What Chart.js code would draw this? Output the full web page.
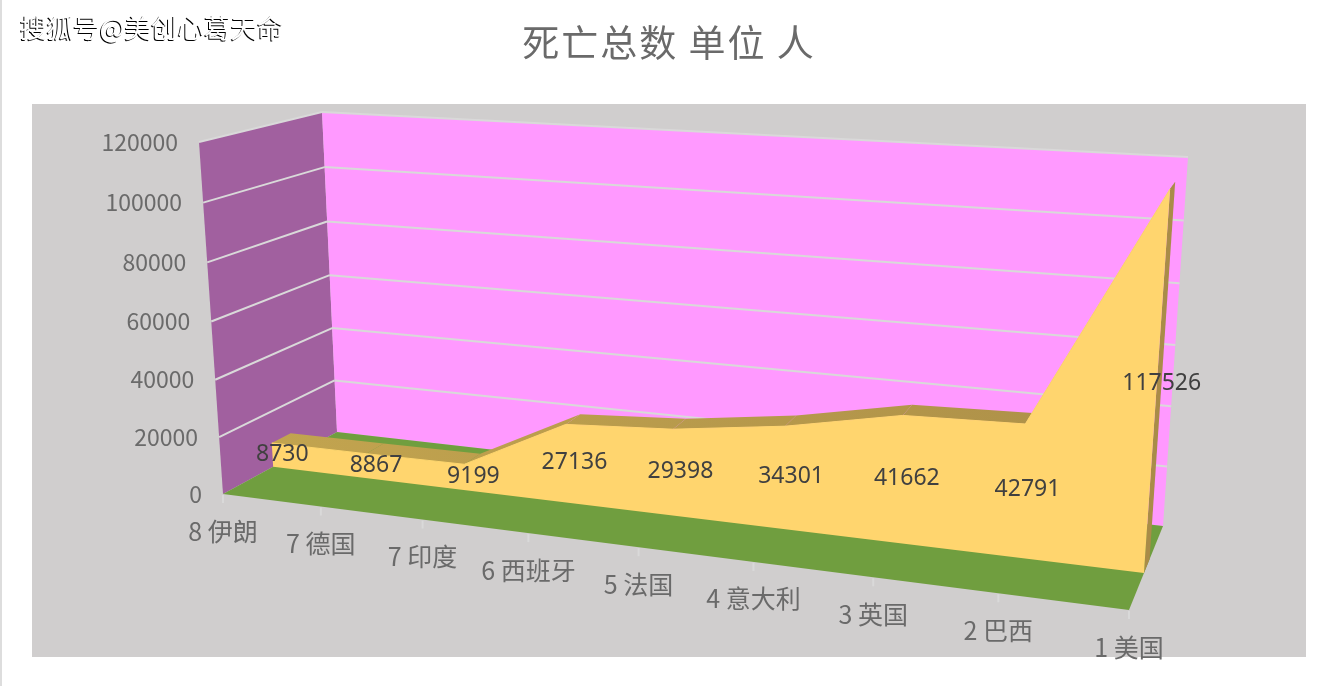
<!DOCTYPE html>
<html><head><meta charset="utf-8">
<style>html,body{margin:0;padding:0;background:#fff}canvas{display:block}</style>
<script src="https://cdn.jsdelivr.net/npm/chart.js@4"></script>
</head><body><canvas id="c" width="1332" height="686"></canvas>
<script>
const categories = ['8 伊朗','7 德国','7 印度','6 西班牙','5 法国','4 意大利','3 英国','2 巴西','1 美国'];
const deaths = [8730,8867,9199,27136,29398,34301,41662,42791,117526];
const valueTicks = [0,20000,40000,60000,80000,100000,120000];
const chartTitle = '死亡总数 单位 人';
const watermark = '搜狐号@美创心葛天命';

const FONT = '"Noto Sans CJK SC","Noto Sans",sans-serif';
const DEPTH_FRONT = 0.44, DEPTH_BACK = 0.605, WARP = 1.18, VWARP = 1.04;
// projected corners of the 3D box: [left/right][bottom/top][front/back]
const BOX = {
  lbf:[223,494], rbf:[1129,610], lbb:[337,432], rbb:[1163,526],
  ltf:[199,142], rtf:[1157,199], ltb:[322,112], rtb:[1188,157]
};
const mix = (a,b,t)=>[a[0]+(b[0]-a[0])*t, a[1]+(b[1]-a[1])*t];
function projectN(c,v,d){
  const t = c/(c+WARP*(1-c));
  const w = v/(v+VWARP*(1-v));
  const bf = mix(BOX.lbf,BOX.rbf,t), bb = mix(BOX.lbb,BOX.rbb,t);
  const tf = mix(BOX.ltf,BOX.rtf,t), tb = mix(BOX.ltb,BOX.rtb,t);
  return mix(mix(bf,tf,w),mix(bb,tb,w),d);
}
function project(chart,index,value,d){
  const x = chart.scales.x, y = chart.scales.y;
  const c = (x.getPixelForValue(index)-x.left)/x.width;
  const v = (y.bottom-y.getPixelForValue(value))/y.height;
  return projectN(c,v,d);
}
function poly(ctx,pts,fill){
  ctx.beginPath();
  pts.forEach((p,i)=>i?ctx.lineTo(p[0],p[1]):ctx.moveTo(p[0],p[1]));
  ctx.closePath(); ctx.fillStyle=fill; ctx.fill();
}
function seg(ctx,a,b){ctx.beginPath();ctx.moveTo(a[0],a[1]);ctx.lineTo(b[0],b[1]);ctx.stroke();}

const box3d = {
  id:'box3d',
  afterDatasetsUpdate(chart){
    chart.getDatasetMeta(0).data.forEach((pt,i)=>{
      const p = project(chart,i,deaths[i],DEPTH_FRONT);
      pt.x=p[0]; pt.y=p[1];
    });
  },
  beforeDraw(chart){
    const ctx=chart.ctx;
    ctx.save();
    ctx.fillStyle='#fff'; ctx.fillRect(0,0,1332,686);
    ctx.fillStyle='#DDDDDD'; ctx.fillRect(0,0,2,686);
    ctx.fillStyle='#D0CECE'; ctx.fillRect(32,104,1274,553);
    ctx.restore();
    ctx.letterSpacing='2px';
  },
  beforeDatasetsDraw(chart){
    const ctx=chart.ctx, last=categories.length-1, vMax=valueTicks[valueTicks.length-1];
    ctx.letterSpacing='0px';
    ctx.save();
    const P=(i,v,d)=>project(chart,i,v,d);
    // walls and floor
    poly(ctx,[P(0,0,0),P(0,vMax,0),P(0,vMax,1),P(0,0,1)],'#A1609F');
    poly(ctx,[P(0,0,1),P(0,vMax,1),P(last,vMax,1),P(last,0,1)],'#FF99FF');
    poly(ctx,[P(0,0,0),P(last,0,0),P(last,0,1),P(0,0,1)],'#709E3F');
    // gridlines
    ctx.strokeStyle='#D9D9D9'; ctx.lineWidth=2;
    valueTicks.forEach(v=>{
      if(v===0) return;
      seg(ctx,P(0,v,0),P(0,v,1));
      seg(ctx,P(0,v,1),P(last,v,1));
    });
    // category tick marks
    categories.forEach((_,i)=>{
      const p=P(i,0,0);
      seg(ctx,[p[0],p[1]+1],[p[0],p[1]+9]);
    });
    // axis text
    ctx.textBaseline='middle'; ctx.fillStyle='#6A6A6A'; ctx.font='23px '+FONT;
    ctx.textAlign='right';
    valueTicks.forEach(v=>{
      const p=P(0,v,0);
      ctx.fillText(String(v),p[0]-21,p[1]);
    });
    ctx.textAlign='center'; ctx.font='25px '+FONT;
    categories.forEach((label,i)=>{
      const p=P(i,0,0);
      ctx.fillText(label,p[0],p[1]+37);
    });
    // top and end faces of the area
    const grad=ctx.createLinearGradient(270,0,1170,0);
    grad.addColorStop(0,'#C2A44F'); grad.addColorStop(1,'#AC8F48');
    const front=deaths.map((v,i)=>P(i,v,DEPTH_FRONT));
    const back=deaths.map((v,i)=>P(i,v,DEPTH_BACK));
    for(let i=0;i<last;i++) poly(ctx,[front[i],front[i+1],back[i+1],back[i]],grad);
    poly(ctx,[front[last],back[last],P(last,0,DEPTH_BACK),P(last,0,DEPTH_FRONT)],'#A98C48');
    // front face, from the chart's own points
    const pts=chart.getDatasetMeta(0).data.map(pt=>[pt.x,pt.y]);
    poly(ctx,[...pts,P(last,0,DEPTH_FRONT),P(0,0,DEPTH_FRONT)],'#FFD56E');
    ctx.restore();
  },
  afterDatasetsDraw(chart){
    const ctx=chart.ctx;
    ctx.save();
    ctx.font='23px "Noto Sans",sans-serif'; ctx.fillStyle='#404040';
    ctx.textAlign='center'; ctx.textBaseline='middle';
    deaths.forEach((v,i)=>{
      const p=project(chart,i,v/2,0.5);
      ctx.fillText(String(v),p[0]+3,p[1]+3);
    });
    ctx.font='26.5px '+FONT; ctx.textAlign='left'; ctx.fillStyle='#fff';
    ctx.shadowColor='#000'; ctx.shadowOffsetX=-1; ctx.shadowOffsetY=1; ctx.shadowBlur=0;
    ctx.fillText(watermark,20,28);
    ctx.restore();
  }
};

new Chart(document.getElementById('c'),{
  type:'line',
  data:{labels:categories,datasets:[{
    label:chartTitle,data:deaths,borderColor:'#FFD56E',borderWidth:1,
    pointRadius:0,fill:false,tension:0,clip:false
  }]},
  options:{
    responsive:false,animation:false,devicePixelRatio:1,
    layout:{padding:{left:6}},
    plugins:{
      legend:{display:false},tooltip:{enabled:false},
      title:{display:true,text:chartTitle,color:'#6A6A6A',
        font:{family:FONT,size:37,weight:'normal'},padding:{top:21,bottom:0}}
    },
    scales:{
      x:{display:false},
      y:{display:false,min:valueTicks[0],max:valueTicks[valueTicks.length-1],ticks:{stepSize:20000}}
    }
  },
  plugins:[box3d]
});
</script></body></html>
